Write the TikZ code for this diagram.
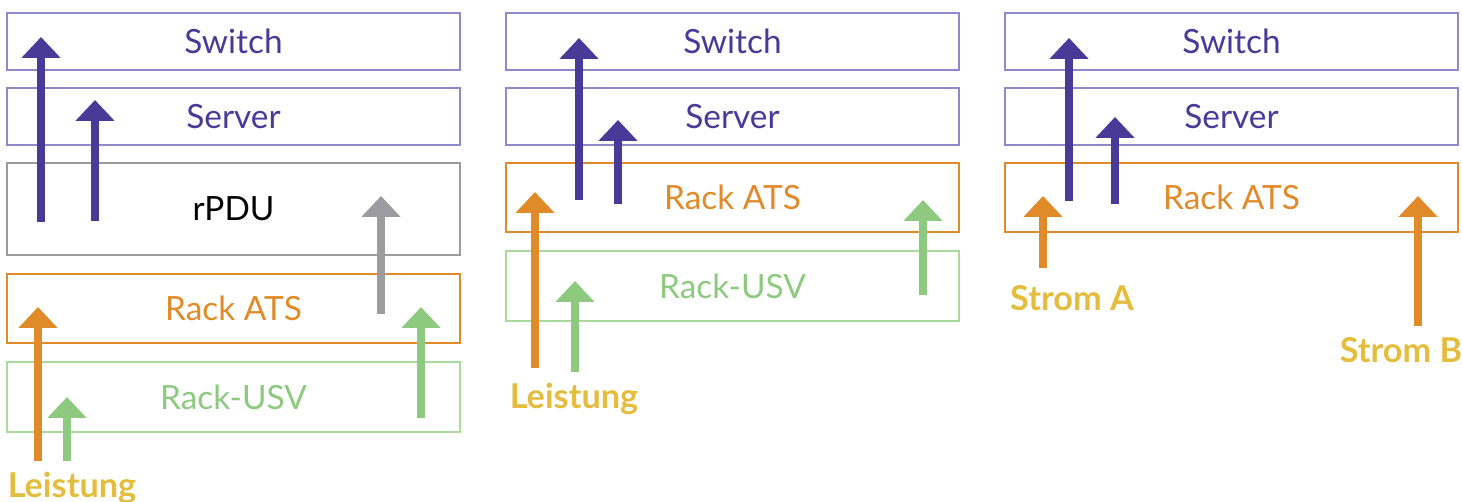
\documentclass[tikz,border=0pt]{standalone}
\usepackage{fontspec}
\setmainfont{Lato}
\usetikzlibrary{arrows.meta}

\definecolor{netpurple}{HTML}{4A3A98}
\definecolor{netframe}{HTML}{9089C9}
\definecolor{pdugrey}{HTML}{9C9CA0}
\definecolor{atsorange}{HTML}{E08A2A}
\definecolor{usvgreen}{HTML}{8DCA80}
\definecolor{usvframe}{HTML}{A9D99B}
\definecolor{feedyellow}{HTML}{E4BD3E}

\tikzset{
  layer/.style={draw, line width=1.1pt, minimum width=9.06cm, inner sep=0pt,
    font=\fontsize{19}{22}\selectfont},
  flow/.style={line width=4.5pt, -{Triangle[width=0.76cm,length=0.42cm]}},
  feed/.style={font=\bfseries\fontsize{19.5}{22}\selectfont, text=feedyellow},
}

\begin{document}
\begin{tikzpicture}[x=0.02cm, y=-0.02cm]
\useasboundingbox (0,0) rectangle (1462,502);

% Left stack: rPDU on top of Rack ATS on top of Rack-USV
\node[layer, draw=netframe, text=netpurple, minimum height=1.14cm] (sw1) at (233.5,41.5) {Switch};
\node[layer, draw=netframe, text=netpurple, minimum height=1.14cm] (srv1) at (233.5,116.5) {Server};
\node[layer, draw=pdugrey, text=black, minimum height=1.84cm] (pdu1) at (233.5,209) {rPDU};
\node[layer, draw=atsorange, text=atsorange, minimum height=1.38cm] (ats1) at (233.5,308.5) {Rack ATS};
\node[layer, draw=usvframe, text=usvgreen, minimum height=1.4cm] (usv1) at (233.5,397) {Rack-USV};
\node[feed] (in1) at (72,488) {Leistung};

% Middle stack: Rack ATS on top of Rack-USV
\node[layer, draw=netframe, text=netpurple, minimum height=1.14cm] (sw2) at (732.5,41.5) {Switch};
\node[layer, draw=netframe, text=netpurple, minimum height=1.14cm] (srv2) at (732.5,116.5) {Server};
\node[layer, draw=atsorange, text=atsorange, minimum height=1.38cm] (ats2) at (732.5,197.5) {Rack ATS};
\node[layer, draw=usvframe, text=usvgreen, minimum height=1.4cm] (usv2) at (732.5,286) {Rack-USV};
\node[feed] (in2) at (574,399) {Leistung};

% Right stack: Rack ATS fed by two sources
\node[layer, draw=netframe, text=netpurple, minimum height=1.14cm] (sw3) at (1231.5,41.5) {Switch};
\node[layer, draw=netframe, text=netpurple, minimum height=1.14cm] (srv3) at (1231.5,116.5) {Server};
\node[layer, draw=atsorange, text=atsorange, minimum height=1.38cm] (ats3) at (1231.5,197.5) {Rack ATS};
\node[feed] (inA) at (1072,298) {Strom A};
\node[feed] (inB) at (1401,350) {Strom B};

% Arrow end points, left stack
\coordinate (p1a) at (41,222);  \coordinate (p1b) at (41,37);
\coordinate (p2a) at (95,221);  \coordinate (p2b) at (95,100);
\coordinate (g1a) at (381,314); \coordinate (g1b) at (381,196);
\coordinate (o1a) at (38,461);  \coordinate (o1b) at (38,307);
\coordinate (u1a) at (67,461);  \coordinate (u1b) at (67,397);
\coordinate (u2a) at (421,418); \coordinate (u2b) at (421,307);

% Arrow end points, middle stack
\coordinate (p3a) at (579,200); \coordinate (p3b) at (579,38);
\coordinate (p4a) at (618,204); \coordinate (p4b) at (618,120);
\coordinate (o2a) at (535,368); \coordinate (o2b) at (535,192);
\coordinate (u3a) at (575,372); \coordinate (u3b) at (575,281);
\coordinate (u4a) at (923,295); \coordinate (u4b) at (923,200);

% Arrow end points, right stack
\coordinate (p5a) at (1069,201); \coordinate (p5b) at (1069,38);
\coordinate (p6a) at (1115,204); \coordinate (p6b) at (1115,117);
\coordinate (oAa) at (1043,268); \coordinate (oAb) at (1043,196);
\coordinate (oBa) at (1418,326); \coordinate (oBb) at (1418,196);

% Draw the power flows
\draw[flow, netpurple] (p1a) -- (p1b);
\draw[flow, netpurple] (p2a) -- (p2b);
\draw[flow, pdugrey] (g1a) -- (g1b);
\draw[flow, atsorange] (o1a) -- (o1b);
\draw[flow, usvgreen] (u1a) -- (u1b);
\draw[flow, usvgreen] (u2a) -- (u2b);

\draw[flow, netpurple] (p3a) -- (p3b);
\draw[flow, netpurple] (p4a) -- (p4b);
\draw[flow, atsorange] (o2a) -- (o2b);
\draw[flow, usvgreen] (u3a) -- (u3b);
\draw[flow, usvgreen] (u4a) -- (u4b);

\draw[flow, netpurple] (p5a) -- (p5b);
\draw[flow, netpurple] (p6a) -- (p6b);
\draw[flow, atsorange] (oAa) -- (oAb);
\draw[flow, atsorange] (oBa) -- (oBb);

\end{tikzpicture}
\end{document}
